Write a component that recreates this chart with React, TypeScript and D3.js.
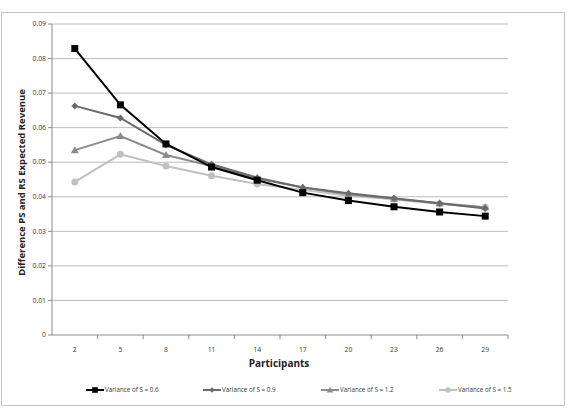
import * as d3 from "d3";

const participants = [2, 5, 8, 11, 14, 17, 20, 23, 26, 29];
const yTicks = [0, 0.01, 0.02, 0.03, 0.04, 0.05, 0.06, 0.07, 0.08, 0.09];

const var06 = [0.0829, 0.0666, 0.0553, 0.0486, 0.0448, 0.0412, 0.0389, 0.0371, 0.0356, 0.0344];
const var09 = [0.0663, 0.0628, 0.0550, 0.0494, 0.0455, 0.0427, 0.0410, 0.0396, 0.0381, 0.0366];
const var12 = [0.0535, 0.0576, 0.0521, 0.0489, 0.0453, 0.0427, 0.0407, 0.0394, 0.0381, 0.0370];
const var15 = [0.0443, 0.0523, 0.0489, 0.0461, 0.0437, 0.0420, 0.0403, 0.0393, 0.0379, 0.0370];

const series = [
  { name: "Variance of S = 0.6", values: var06, color: "#000000", marker: "square" },
  { name: "Variance of S = 0.9", values: var09, color: "#6a6a6a", marker: "diamond" },
  { name: "Variance of S = 1.2", values: var12, color: "#8c8c8c", marker: "triangle" },
  { name: "Variance of S = 1.5", values: var15, color: "#c0c0c0", marker: "circle" },
];

const width = 569;
const height = 411;
const margin = { top: 24, right: 61, bottom: 76, left: 52 };

const font = "'Open Sans', 'Liberation Sans', Arial, sans-serif";

function Marker({ type, x, y, color, s = 1 }: { type: string; x: number; y: number; color: string; s?: number }) {
  if (type === "square") {
    return <rect x={x - 3.5 * s} y={y - 3.5 * s} width={7 * s} height={7 * s} fill={color} />;
  }
  if (type === "diamond") {
    const r = 3.5 * s;
    return <path d={`M${x},${y - r}L${x + r},${y}L${x},${y + r}L${x - r},${y}Z`} fill={color} />;
  }
  if (type === "triangle") {
    return <path d={`M${x},${y - 4 * s}L${x + 4 * s},${y + 3 * s}L${x - 4 * s},${y + 3 * s}Z`} fill={color} />;
  }
  return <circle cx={x} cy={y} r={3.5 * s} fill={color} />;
}

export default function App() {
  const x = d3
    .scaleBand<number>()
    .domain(participants)
    .range([margin.left, width - margin.right]);

  const y = d3
    .scaleLinear()
    .domain([0, 0.09])
    .range([height - margin.bottom, margin.top]);

  const cx = (d: number) => (x(d) ?? 0) + x.bandwidth() / 2;

  const line = d3
    .line<number>()
    .x((_, i) => cx(participants[i]))
    .y((d) => y(d));

  const plotBottom = height - margin.bottom;
  const plotRight = width - margin.right;
  const legendX = [86, 203, 321, 439];

  return (
    <svg
      width={width}
      height={height}
      style={{ position: "absolute", left: 0, top: 0, background: "#fff" }}
      fontFamily={font}
    >
      <rect x={1.5} y={12.5} width={563} height={393} fill="#fff" stroke="#c4c4c4" strokeWidth={1} />

      {/* grid lines */}
      {yTicks.map((t) => (
        <g key={t}>
          {t > 0 && (
            <line x1={margin.left} x2={plotRight} y1={y(t)} y2={y(t)} stroke="#bdbdbd" strokeWidth={1} />
          )}
          <line x1={margin.left - 4} x2={margin.left} y1={y(t)} y2={y(t)} stroke="#8a8a8a" />
          <text x={margin.left - 6} y={y(t)} dy="0.32em" textAnchor="end" fontSize={6.8} fill="#3a3a3a">
            {t === 0 ? "0" : t.toFixed(2)}
          </text>
        </g>
      ))}

      {/* axes */}
      <line x1={margin.left} x2={margin.left} y1={margin.top} y2={plotBottom} stroke="#8a8a8a" />
      <line x1={margin.left} x2={plotRight} y1={plotBottom} y2={plotBottom} stroke="#8a8a8a" />
      {participants.map((p) => (
        <line
          key={"t" + p}
          x1={(x(p) ?? 0) + x.bandwidth()}
          x2={(x(p) ?? 0) + x.bandwidth()}
          y1={plotBottom}
          y2={plotBottom + 4}
          stroke="#8a8a8a"
        />
      ))}
      {participants.map((p) => (
        <text key={"l" + p} x={cx(p)} y={plotBottom + 17} textAnchor="middle" fontSize={6.8} fill="#3a3a3a">
          {p}
        </text>
      ))}

      {/* lines */}
      {series
        .slice()
        .reverse()
        .map((s) => (
          <g key={s.name}>
            <path d={line(s.values) ?? ""} fill="none" stroke={s.color} strokeWidth={2} />
            {s.values.map((v, i) => (
              <Marker key={i} type={s.marker} x={cx(participants[i])} y={y(v)} color={s.color} />
            ))}
          </g>
        ))}

      {/* axis titles */}
      <text x={279} y={367} textAnchor="middle" fontSize={10} fontWeight="bold" fill="#222">
        Participants
      </text>
      <text
        transform={`translate(25,${(margin.top + plotBottom) / 2 + 3}) rotate(-90)`}
        textAnchor="middle"
        fontSize={9.5}
        fontWeight="bold"
        fill="#222"
      >
        Difference PS and RS Expected Revenue
      </text>

      {/* legend */}
      {series.map((s, i) => (
        <g key={"lg" + i} transform={`translate(${legendX[i]},390)`}>
          <line x1={0} x2={18} y1={0} y2={0} stroke={s.color} strokeWidth={2} />
          <Marker type={s.marker} x={9} y={0} color={s.color} s={0.8} />
          <text x={19} y={0} dy="0.32em" fontSize={6.3} fill="#3a3a3a">
            {s.name}
          </text>
        </g>
      ))}
    </svg>
  );
}
